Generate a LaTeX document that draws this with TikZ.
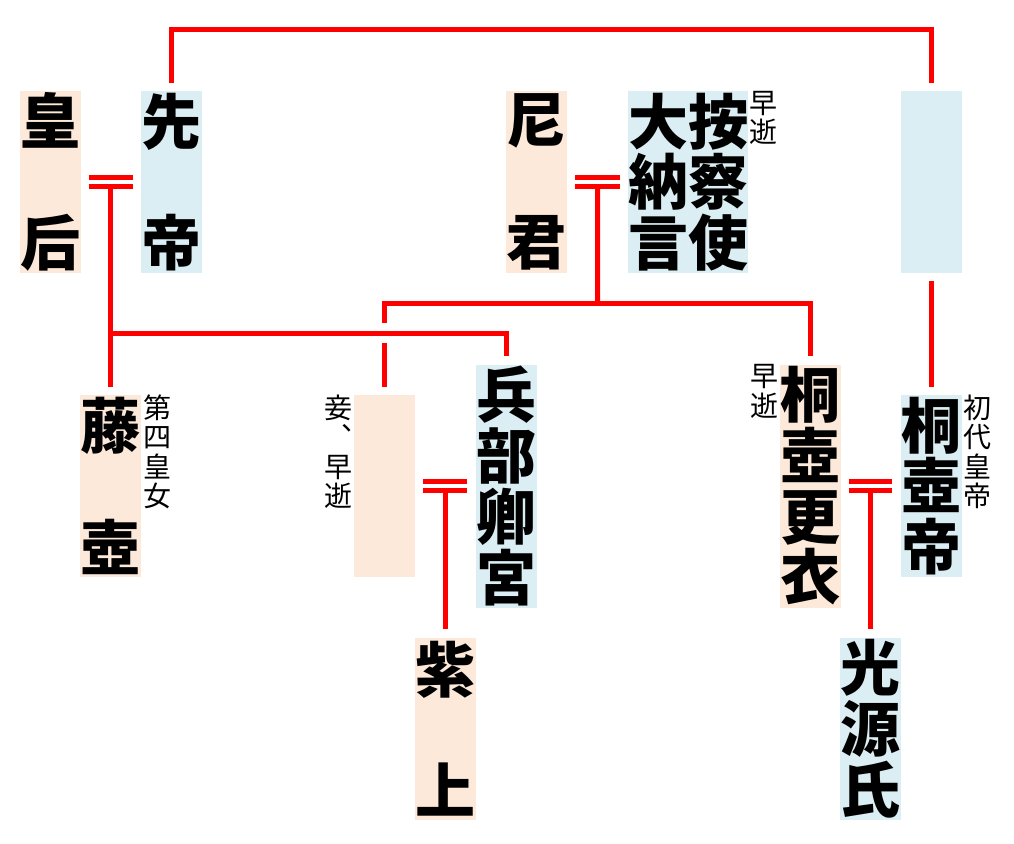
\documentclass[tikz,border=0pt]{standalone}
\usepackage{fontspec}
\usetikzlibrary{calc}
\newfontfamily\cjk{Noto Sans CJK JP}
\definecolor{peach}{HTML}{FDE9D9}
\definecolor{pale}{HTML}{DAEEF3}
\definecolor{kinred}{HTML}{FF0000}

\begin{document}
\begin{tikzpicture}[x=1pt,y=-1pt,
        person/.style={inner sep=0pt,minimum width=61pt,minimum height=182pt,align=center,
            font={\cjk\bfseries\fontsize{60}{60.7}\selectfont\lineskiplimit=-100pt}},
        woman/.style={person,fill=peach},
        man/.style={person,fill=pale},
        note/.style={inner sep=0pt,align=center,
            font={\cjk\fontsize{28}{29.3}\selectfont\lineskiplimit=-100pt}},
        kin/.style={draw=kinred,line width=5pt},
        tie/.style={kin,shorten <=8pt,shorten >=8pt},
        descent/.style={kin,shorten >=8pt}]
                \useasboundingbox (0,0) rectangle (1014,843);

                \node[woman] (kogo) at (50,182) {皇\\\phantom{皇}\\后};
                \node[man] (sentei) at (171.5,182) {先\\\phantom{先}\\帝};
                \node[woman] (amagimi) at (536.5,182) {尼\\\phantom{尼}\\君};
                \node[man,minimum width=120pt] (azechi) at (688,182) {大按\\納察\\言使};
                \node[man] (ichiin) at (931,182) {};
                \node[woman] (fujitsubo) at (110.5,486) {藤\\\phantom{藤}\\壺};
                \node[woman] (mekake) at (384.5,486) {};
                \node[man,minimum height=243pt] (hyobu) at (506,486) {兵\\部\\卿\\宮};
                \node[woman,minimum height=243pt] (koui) at (810,486) {桐\\壺\\更\\衣};
                \node[man] (mikado) at (931,486) {桐\\壺\\帝};
                \node[woman] (murasaki) at (445.5,728.5) {紫\\\phantom{紫}\\上};
                \node[man] (genji) at (870.5,728.5) {光\\源\\氏};

                \node[note,anchor=north west] (azechi-note) at ([xshift=1pt]azechi.north east) {早\\逝};
                \node[note,anchor=north west] (fujitsubo-note) at ([xshift=2pt]fujitsubo.north east) {第\\四\\皇\\女};
                \node[note,anchor=north east] (mekake-note) at ([xshift=-1pt]mekake.north west) {妾\\︑\\早\\逝};
                \node[note,anchor=north east] (koui-note) at ([xshift=-1pt]koui.north west) {早\\逝};
                \node[note,anchor=north west] (mikado-note) at ([xshift=2pt]mikado.north east) {初\\代\\皇\\帝};

                \coordinate (kogo-sentei) at ($(kogo.east)!.5!(sentei.west)$);
                \coordinate (amagimi-azechi) at ($(amagimi.east)!.5!(azechi.west)$);
                \coordinate (mekake-hyobu) at ($(mekake.east)!.5!(hyobu.west)$);
                \coordinate (koui-mikado) at ($(koui.east)!.5!(mikado.west)$);
                \coordinate (kogo-fork) at (110.5,333);
                \coordinate (amagimi-fork) at (597.5,303);
                \coordinate (mekake-gap) at (384.5,323);
                \coordinate (mekake-jump) at (384.5,343);

                \draw[tie] (sentei.north) -- ++(0,-61) -| (ichiin.north);
                \draw[tie] (ichiin.south) -- (mikado.north);

                \draw[tie] ([yshift=4.5pt]kogo.east) -- ([yshift=4.5pt]sentei.west);
                \draw[tie] ([yshift=-4.5pt]kogo.east) -- ([yshift=-4.5pt]sentei.west);
                \draw[descent] ([yshift=-4.5pt]kogo-sentei) -- (kogo-sentei |- fujitsubo.north);
                \draw[descent] (kogo-fork) -| (hyobu.north);

                \draw[tie] ([yshift=4.5pt]amagimi.east) -- ([yshift=4.5pt]azechi.west);
                \draw[tie] ([yshift=-4.5pt]amagimi.east) -- ([yshift=-4.5pt]azechi.west);
                \draw[kin] ([yshift=-4.5pt]amagimi-azechi) -- (amagimi-fork);
                \draw[descent] (mekake-gap) |- (amagimi-fork) -| (koui.north);
                \draw[descent] (mekake-jump) -- (mekake.north);

                \draw[tie] ([yshift=4.5pt]mekake.east) -- ([yshift=4.5pt]hyobu.west);
                \draw[tie] ([yshift=-4.5pt]mekake.east) -- ([yshift=-4.5pt]hyobu.west);
                \draw[descent] ([yshift=-4.5pt]mekake-hyobu) -- (mekake-hyobu |- murasaki.north);

                \draw[tie] ([yshift=4.5pt]koui.east) -- ([yshift=4.5pt]mikado.west);
                \draw[tie] ([yshift=-4.5pt]koui.east) -- ([yshift=-4.5pt]mikado.west);
                \draw[descent] ([yshift=-4.5pt]koui-mikado) -- (koui-mikado |- genji.north);
            \end{tikzpicture}
\end{document}
